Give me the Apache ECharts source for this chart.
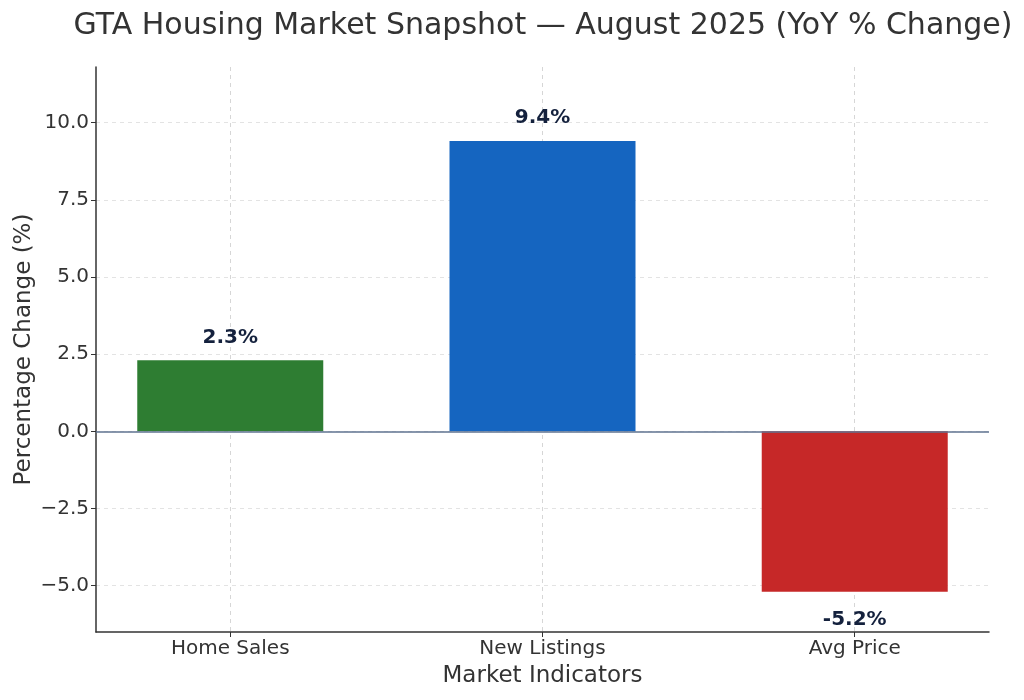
<!DOCTYPE html>
<html>
<head>
<meta charset="utf-8">
<script src="https://cdn.jsdelivr.net/npm/echarts@6/dist/echarts.min.js"></script>
<style>
  html, body { margin: 0; padding: 0; background: #fff; }
  #main { width: 1024px; height: 700px; }
</style>
</head>
<body>
<div id="main"></div>
<script>
var categories = ['Home Sales', 'New Listings', 'Avg Price'];
var values = [2.3, 9.4, -5.2];
var barColors = ['#2e7d32', '#1565c0', '#c62828'];
var yTicks = [-5, -2.5, 0, 2.5, 5, 7.5, 10];
var xTicks = [0, 1, 2];

var chartDom = document.getElementById('main');
var myChart = echarts.init(chartDom);

var fontFamily = 'DejaVu Sans';

function fmtY(v) {
  if (v < 0) return '\u2212' + Math.abs(v).toFixed(1);
  return v.toFixed(1);
}

var barData = values.map(function (v, i) {
  return {
    value: [i, v],
    itemStyle: { color: barColors[i] },
    label: {
      show: true,
      position: v >= 0 ? 'top' : 'bottom',
      distance: v >= 0 ? 13 : 18,
      formatter: v.toFixed(1) + '%'
    }
  };
});

var option = {
  backgroundColor: '#ffffff',
  animation: false,
  title: {
    text: 'GTA Housing Market Snapshot \u2014 August 2025 (YoY % Change)',
    left: 538,
    textAlign: 'center',
    top: 6,
    textStyle: {
      fontFamily: fontFamily,
      fontSize: 30,
      fontWeight: 'normal',
      color: '#333333'
    }
  },
  grid: { left: 96, right: 35, top: 67, bottom: 68 },
  xAxis: {
    type: 'value',
    min: -0.43,
    max: 2.43,
    name: 'Market Indicators',
    nameLocation: 'middle',
    nameGap: 33,
    nameMoveOverlap: false,
    nameTextStyle: { fontFamily: fontFamily, fontSize: 23, color: '#333333' },
    axisLine: { onZero: false, lineStyle: { color: '#333333', width: 1.5 } },
    axisTick: { show: true, length: 5, customValues: xTicks, lineStyle: { color: '#333333' } },
    axisLabel: {
      customValues: xTicks,
      margin: 7,
      fontFamily: fontFamily,
      fontSize: 20,
      color: '#333333',
      formatter: function (v) { return categories[Math.round(v)]; }
    },
    splitLine: {
      show: true,
      customValues: xTicks,
      lineStyle: { color: '#d6d6d6', type: [4, 4], width: 1 }
    }
  },
  yAxis: {
    type: 'value',
    min: -6.5,
    max: 11.8,
    name: 'Percentage Change (%)',
    nameLocation: 'middle',
    nameGap: 60,
    nameMoveOverlap: false,
    nameTextStyle: { fontFamily: fontFamily, fontSize: 23, color: '#333333' },
    axisLine: { show: true, onZero: false, lineStyle: { color: '#333333', width: 1.5 } },
    axisTick: { show: true, length: 5, customValues: yTicks, lineStyle: { color: '#333333' } },
    axisLabel: {
      customValues: yTicks,
      margin: 7,
      fontFamily: fontFamily,
      fontSize: 20,
      color: '#333333',
      formatter: fmtY
    },
    splitLine: {
      show: true,
      customValues: yTicks,
      lineStyle: { color: '#e3e3e3', type: [4, 4], width: 1 }
    }
  },
  series: [
    {
      type: 'bar',
      data: barData,
      barWidth: 186,
      label: {
        fontFamily: fontFamily,
        fontSize: 20,
        fontWeight: 'bold',
        color: '#14213d'
      },
      markLine: {
        silent: true,
        symbol: 'none',
        label: { show: false },
        lineStyle: { color: '#5f7391', type: 'solid', width: 1.5 },
        data: [{ yAxis: 0 }]
      }
    }
  ]
};

myChart.setOption(option);
</script>
</body>
</html>
